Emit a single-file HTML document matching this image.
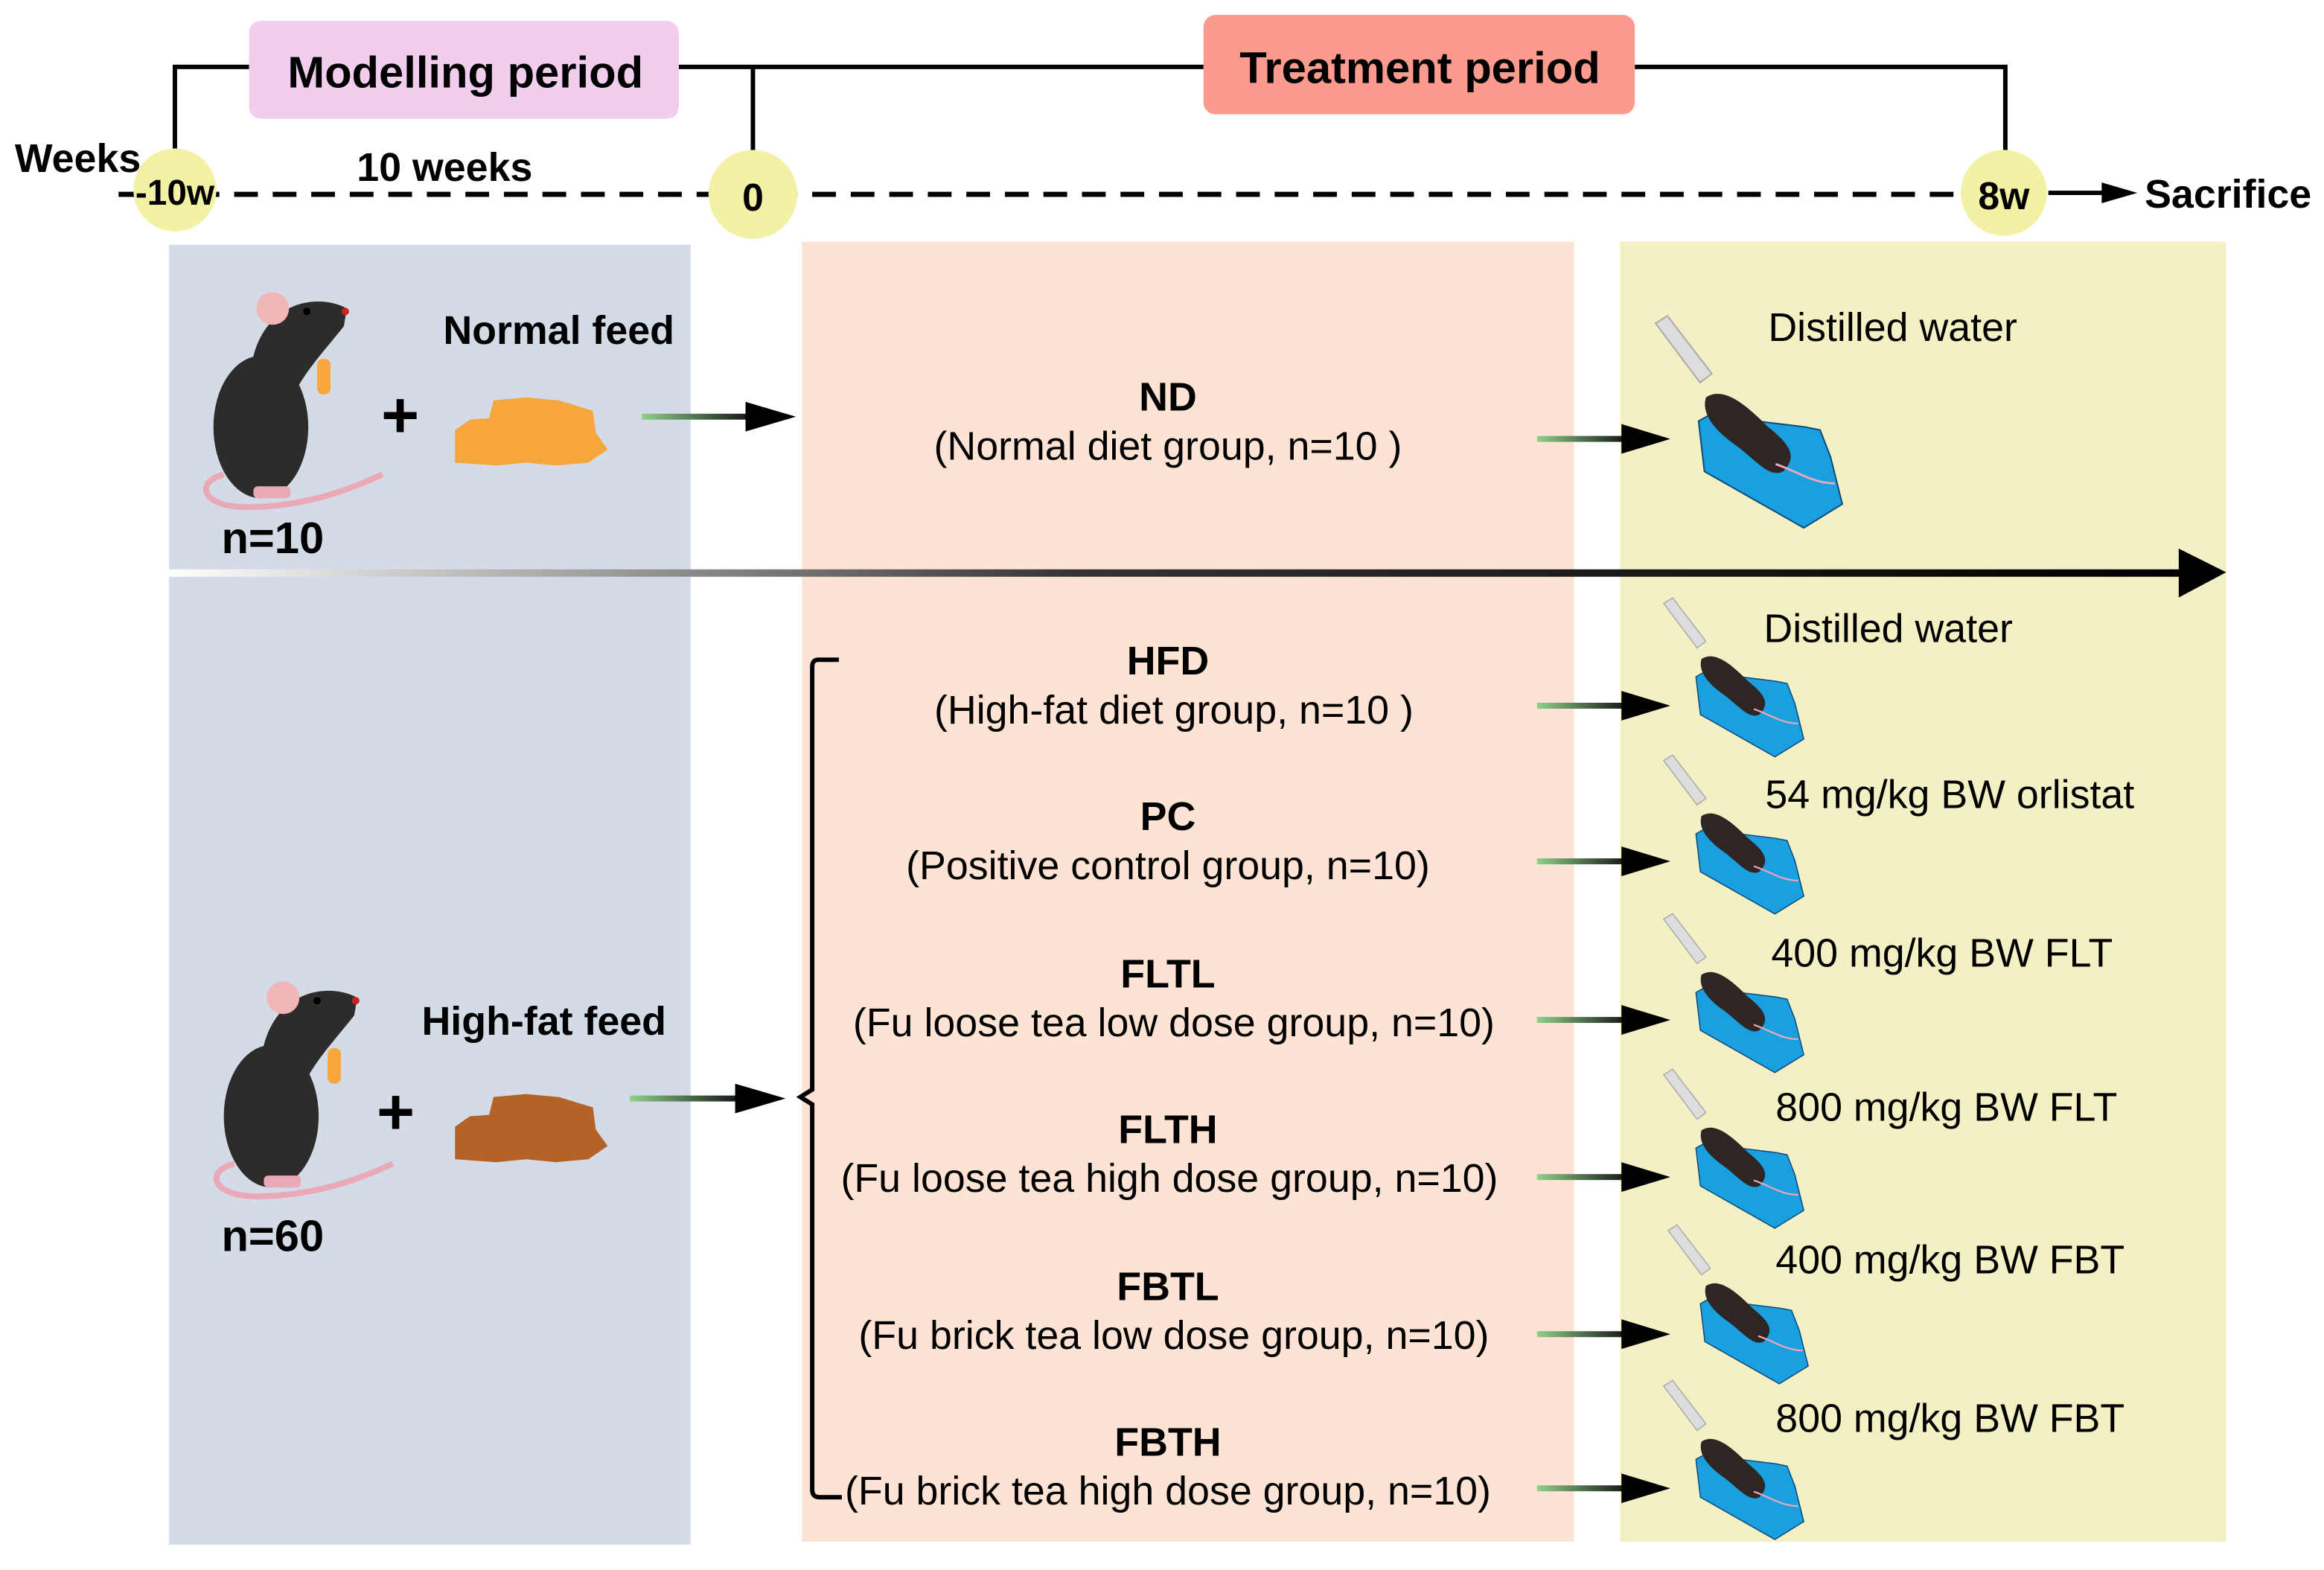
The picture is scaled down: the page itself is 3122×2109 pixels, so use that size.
<!DOCTYPE html>
<html><head><meta charset="utf-8"><style>
html,body{margin:0;padding:0;background:#fff}
svg{display:block}
text{font-family:"Liberation Sans",Arial,sans-serif;fill:#000}
.b{font-weight:bold}
</style></head><body>
<svg width="3122" height="2109" viewBox="0 0 1568 1059" xmlns="http://www.w3.org/2000/svg">
<defs>
<linearGradient id="ga" x1="0" x2="1"><stop offset="0" stop-color="#8fd08a"/><stop offset="1" stop-color="#111"/></linearGradient>
<linearGradient id="gs" x1="0" x2="1"><stop offset="0" stop-color="#fff"/><stop offset="0.45" stop-color="#333"/><stop offset="1" stop-color="#000"/></linearGradient>
<g id="mouse">
<path d="M-25,40 C-45,45 -40,62 -10,62 C30,62 60,50 82,40" fill="none" stroke="#e9a9b6" stroke-width="4"/>
<ellipse cx="0" cy="8" rx="32" ry="48" fill="#2e2b2b"/>
<path d="M-5,-40 C5,-78 40,-82 58,-72 L56,-60 C40,-40 30,-30 20,-10 L-10,-5 Z" fill="#2e2b2b"/>
<circle cx="8" cy="-72" r="11" fill="#f3b6b6"/>
<circle cx="31" cy="-70" r="2.5" fill="#000"/>
<circle cx="57" cy="-70" r="2.5" fill="#d02020"/>
<rect x="38" y="-38" width="9" height="24" rx="4" fill="#f7a73c"/>
<rect x="-5" y="48" width="25" height="8" rx="3" fill="#e9a9b6"/>
</g>
<g id="feed">
<path d="M2,25 L12,18 L25,17 L28,5 L50,3 L72,5 L95,12 L97,27 L105,38 L92,47 L70,49 L50,47 L30,49 L2,47 Z"/>
</g>
<g id="gav">
<path d="M-66,-100 L-58,-105 L-28,-66 L-36,-60 Z" fill="#ddd" stroke="#aaa" stroke-width="1"/>
<path d="M-37,-34 L-30,-38 L35,-30 L45,-28 L52,-10 L60,22 L34,38 L-33,0 Z" fill="#1a9fe0" stroke="#0a4a7a" stroke-width="1"/>
<path d="M-32,-50 C-20,-58 -5,-45 10,-30 C25,-18 30,-10 20,0 C10,5 0,-10 -15,-20 C-28,-30 -35,-40 -32,-50Z" fill="#2e2622"/>
<path d="M15,-5 C30,0 40,8 55,8" fill="none" stroke="#e9a9b6" stroke-width="1.5"/>
</g>
</defs>
<rect width="1568" height="1059" fill="#fff"/>
<path d="M118,110 V45 H168 M458,45 H812 M1103,45 H1353 V110 M508,45 V110" fill="none" stroke="#000" stroke-width="3"/>
<rect x="168" y="14" width="290" height="66" rx="8" fill="#f1cdee"/>
<text x="314" y="59" font-size="30" text-anchor="middle" class="b">Modelling period</text>
<rect x="812" y="10" width="291" height="67" rx="8" fill="#fa9b8d"/>
<text x="958" y="56" font-size="30" text-anchor="middle" class="b">Treatment period</text>
<line x1="80" y1="131" x2="1330" y2="131" stroke="#000" stroke-width="3.5" stroke-dasharray="16,10"/>
<circle cx="118" cy="128" r="28" fill="#f3f1a4"/>
<circle cx="508" cy="131" r="30" fill="#f3f1a4"/>
<circle cx="1352" cy="130" r="29" fill="#f3f1a4"/>
<text x="118" y="138" font-size="24" text-anchor="middle" class="b">-10w</text>
<text x="508" y="142" font-size="26" text-anchor="middle" class="b">0</text>
<text x="1352" y="141" font-size="26" text-anchor="middle" class="b">8w</text>
<text x="10" y="116" font-size="27" class="b">Weeks</text>
<text x="300" y="122" font-size="27" text-anchor="middle" class="b">10 weeks</text>
<line x1="1382" y1="130" x2="1420" y2="130" stroke="#000" stroke-width="3"/>
<polygon points="1418,123 1442,130 1418,137"/>
<text x="1447" y="140" font-size="27" class="b">Sacrifice</text>
<rect x="114" y="165" width="352" height="877" fill="#d3dce6"/>
<rect x="541" y="163" width="521" height="877" fill="#fde3d4"/>
<rect x="1093" y="163" width="409" height="877" fill="#f3f0c4"/>
<rect x="114" y="384" width="1360" height="5" fill="url(#gs)"/>
<polygon points="1470,370 1502,386 1470,403"/>
<use href="#mouse" x="176" y="280"/>
<text x="270" y="295" font-size="44" text-anchor="middle" class="b">+</text>
<use href="#feed" x="305" y="265" fill="#f7a63b"/>
<text x="377" y="232" font-size="27" text-anchor="middle" class="b">Normal feed</text>
<text x="184" y="373" font-size="30" text-anchor="middle" class="b">n=10</text>
<rect x="433" y="279" width="75" height="4" fill="url(#ga)"/>
<polygon points="503,271 537,281 503,291"/>
<use href="#mouse" x="183" y="745"/>
<text x="267" y="765" font-size="44" text-anchor="middle" class="b">+</text>
<use href="#feed" x="305" y="735" fill="#b5622a"/>
<text x="367" y="698" font-size="27" text-anchor="middle" class="b">High-fat feed</text>
<text x="184" y="844" font-size="30" text-anchor="middle" class="b">n=60</text>
<rect x="425" y="739" width="75" height="4" fill="url(#ga)"/>
<polygon points="496,731 530,741 496,751"/>
<path d="M566,445 H552 Q548,445 548,450 V735 L540,740 L548,745 V1005 Q548,1010 553,1010 H568" fill="none" stroke="#000" stroke-width="3"/>
<g font-size="27" text-anchor="middle">
<text x="788" y="277" class="b">ND</text>
<text x="788" y="310">(Normal diet group, n=10 )</text>
<text x="788" y="455" class="b">HFD</text>
<text x="792" y="488">(High-fat diet group, n=10 )</text>
<text x="788" y="560" class="b">PC</text>
<text x="788" y="593">(Positive control group, n=10)</text>
<text x="788" y="666" class="b">FLTL</text>
<text x="792" y="699">(Fu loose tea low dose group, n=10)</text>
<text x="788" y="771" class="b">FLTH</text>
<text x="789" y="804">(Fu loose tea high dose group, n=10)</text>
<text x="788" y="877" class="b">FBTL</text>
<text x="792" y="910">(Fu brick tea low dose group, n=10)</text>
<text x="788" y="982" class="b">FBTH</text>
<text x="788" y="1015">(Fu brick tea high dose group, n=10)</text>
</g>
<g>
<rect x="1037" y="294" width="62" height="4" fill="url(#ga)"/><polygon points="1094,286 1127,296 1094,306"/>
<rect x="1037" y="474" width="62" height="4" fill="url(#ga)"/><polygon points="1094,466 1127,476 1094,486"/>
<rect x="1037" y="579" width="62" height="4" fill="url(#ga)"/><polygon points="1094,571 1127,581 1094,591"/>
<rect x="1037" y="686" width="62" height="4" fill="url(#ga)"/><polygon points="1094,678 1127,688 1094,698"/>
<rect x="1037" y="792" width="62" height="4" fill="url(#ga)"/><polygon points="1094,784 1127,794 1094,804"/>
<rect x="1037" y="898" width="62" height="4" fill="url(#ga)"/><polygon points="1094,890 1127,900 1094,910"/>
<rect x="1037" y="1002" width="62" height="4" fill="url(#ga)"/><polygon points="1094,994 1127,1004 1094,1014"/>
</g>
<use href="#gav" transform="translate(1183,318)"/>
<use href="#gav" transform="translate(1172,482) scale(0.75)"/>
<use href="#gav" transform="translate(1172,588) scale(0.75)"/>
<use href="#gav" transform="translate(1172,695) scale(0.75)"/>
<use href="#gav" transform="translate(1172,800) scale(0.75)"/>
<use href="#gav" transform="translate(1175,905) scale(0.75)"/>
<use href="#gav" transform="translate(1172,1010) scale(0.75)"/>
<g font-size="27">
<text x="1193" y="230">Distilled water</text>
<text x="1190" y="433">Distilled water</text>
<text x="1191" y="545">54 mg/kg BW orlistat</text>
<text x="1195" y="652">400 mg/kg BW FLT</text>
<text x="1198" y="756">800 mg/kg BW FLT</text>
<text x="1198" y="859">400 mg/kg BW FBT</text>
<text x="1198" y="966">800 mg/kg BW FBT</text>
</g>
</svg>
</body></html>
